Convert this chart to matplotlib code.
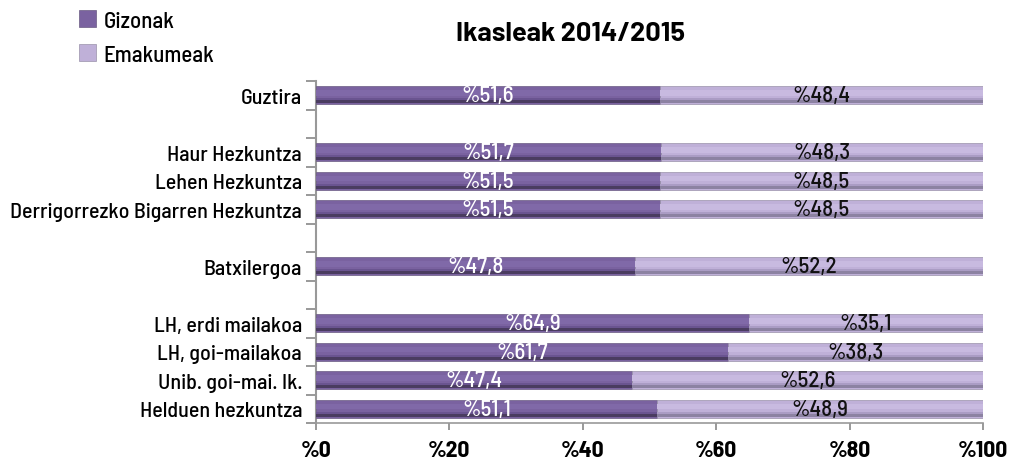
import matplotlib
matplotlib.use("Agg")
import matplotlib.pyplot as plt
import numpy as np

FAM = ['Barlow Semi Condensed', 'Barlow Condensed', 'Archivo Narrow', 'DejaVu Sans']
plt.rcParams['font.family'] = FAM

categories = ["Guztira", "", "Haur Hezkuntza", "Lehen Hezkuntza",
              "Derrigorrezko Bigarren Hezkuntza", "", "Batxilergoa", "",
              "LH, erdi mailakoa", "LH, goi-mailakoa", "Unib. goi-mai. Ik.",
              "Helduen hezkuntza"]
gizonak = [51.6, np.nan, 51.7, 51.5, 51.5, np.nan, 47.8, np.nan, 64.9, 61.7, 47.4, 51.1]
emakumeak = [48.4, np.nan, 48.3, 48.5, 48.5, np.nan, 52.2, np.nan, 35.1, 38.3, 52.6, 48.9]
xticks = [0, 20, 40, 60, 80, 100]
xticklabels = ["%0", "%20", "%40", "%60", "%80", "%100"]
series_names = ["Gizonak", "Emakumeak"]

dark = "#7a62a0"
light = "#bfb0d8"

fig = plt.figure(figsize=(10.11, 4.64), dpi=100)
ax = fig.add_axes([316/1011, 1-424/464, (983-316)/1011, (424-82)/464])

n = len(categories)
y = np.arange(n)
g = np.array(gizonak)
e = np.array(emakumeak)
h = 0.64
bg = ax.barh(y, g, height=h, color=dark, edgecolor="#6a5a82", linewidth=0.5, label=series_names[0], zorder=3)
be = ax.barh(y, e, left=g, height=h, color=light, edgecolor="#9a92aa", linewidth=0.5, label=series_names[1], zorder=3)
# shading for cylinder look
ax.barh(y + h*0.36, g, height=h*0.16, color="#4a3c60", linewidth=0, zorder=4)
ax.barh(y + h*0.36, e, left=g, height=h*0.16, color="#8c82a2", linewidth=0, zorder=4)
ax.barh(y + h*0.22, g, height=h*0.12, color="#6a5490", linewidth=0, zorder=4)
ax.barh(y + h*0.22, e, left=g, height=h*0.12, color="#aa9cc4", linewidth=0, zorder=4)
ax.barh(y - h*0.12, g, height=h*0.3, color="#8069a8", linewidth=0, zorder=4)
ax.barh(y - h*0.12, e, left=g, height=h*0.3, color="#c8bae0", linewidth=0, zorder=4)

fs = 16.5
for i in range(n):
    if np.isnan(g[i]):
        continue
    ax.text(g[i]/2, y[i], ("%" + f"{g[i]:.1f}").replace(".", ","), color="white",
            ha="center", va="center", fontsize=fs, fontweight="medium", zorder=5)
    ax.text(g[i] + e[i]/2, y[i], ("%" + f"{e[i]:.1f}").replace(".", ","), color="#111111",
            ha="center", va="center", fontsize=fs, fontweight="medium", zorder=5)

ax.set_xlim(0, 100)
ax.set_ylim(n - 0.5, -0.5)
ax.set_yticks(y)
ax.set_yticklabels(categories, fontsize=15.8, fontweight="medium")
ax.set_yticks(np.arange(n + 1) - 0.5, minor=True)
ax.tick_params(axis="y", which="major", length=0, pad=10)
ax.tick_params(axis="y", which="minor", length=7, color="#888888", width=1.2)
ax.set_xticks(xticks)
ax.set_xticklabels(xticklabels, fontsize=17, fontweight="bold")
ax.tick_params(axis="x", length=5, color="#888888", width=1.2, pad=7)
for s in ["top", "right"]:
    ax.spines[s].set_visible(False)
ax.spines["left"].set_color("#999999")
ax.spines["left"].set_linewidth(1.5)
ax.spines["bottom"].set_color("#999999")
ax.spines["bottom"].set_linewidth(1.2)

fig.text(0.564, 0.927, "Ikasleak 2014/2015", ha="center", va="center",
         fontsize=19.5, fontweight="bold", family=['Barlow', 'DejaVu Sans'])
fig.legend(handles=[bg, be], labels=series_names, loc="upper left",
           bbox_to_anchor=(0.058, 1.02), frameon=False,
           prop={'size': fs, 'weight': 'medium', 'family': FAM},
           handlelength=0.75, handleheight=0.75, handletextpad=0.3, labelspacing=0.6)

fig.savefig("out.png", dpi=100)
